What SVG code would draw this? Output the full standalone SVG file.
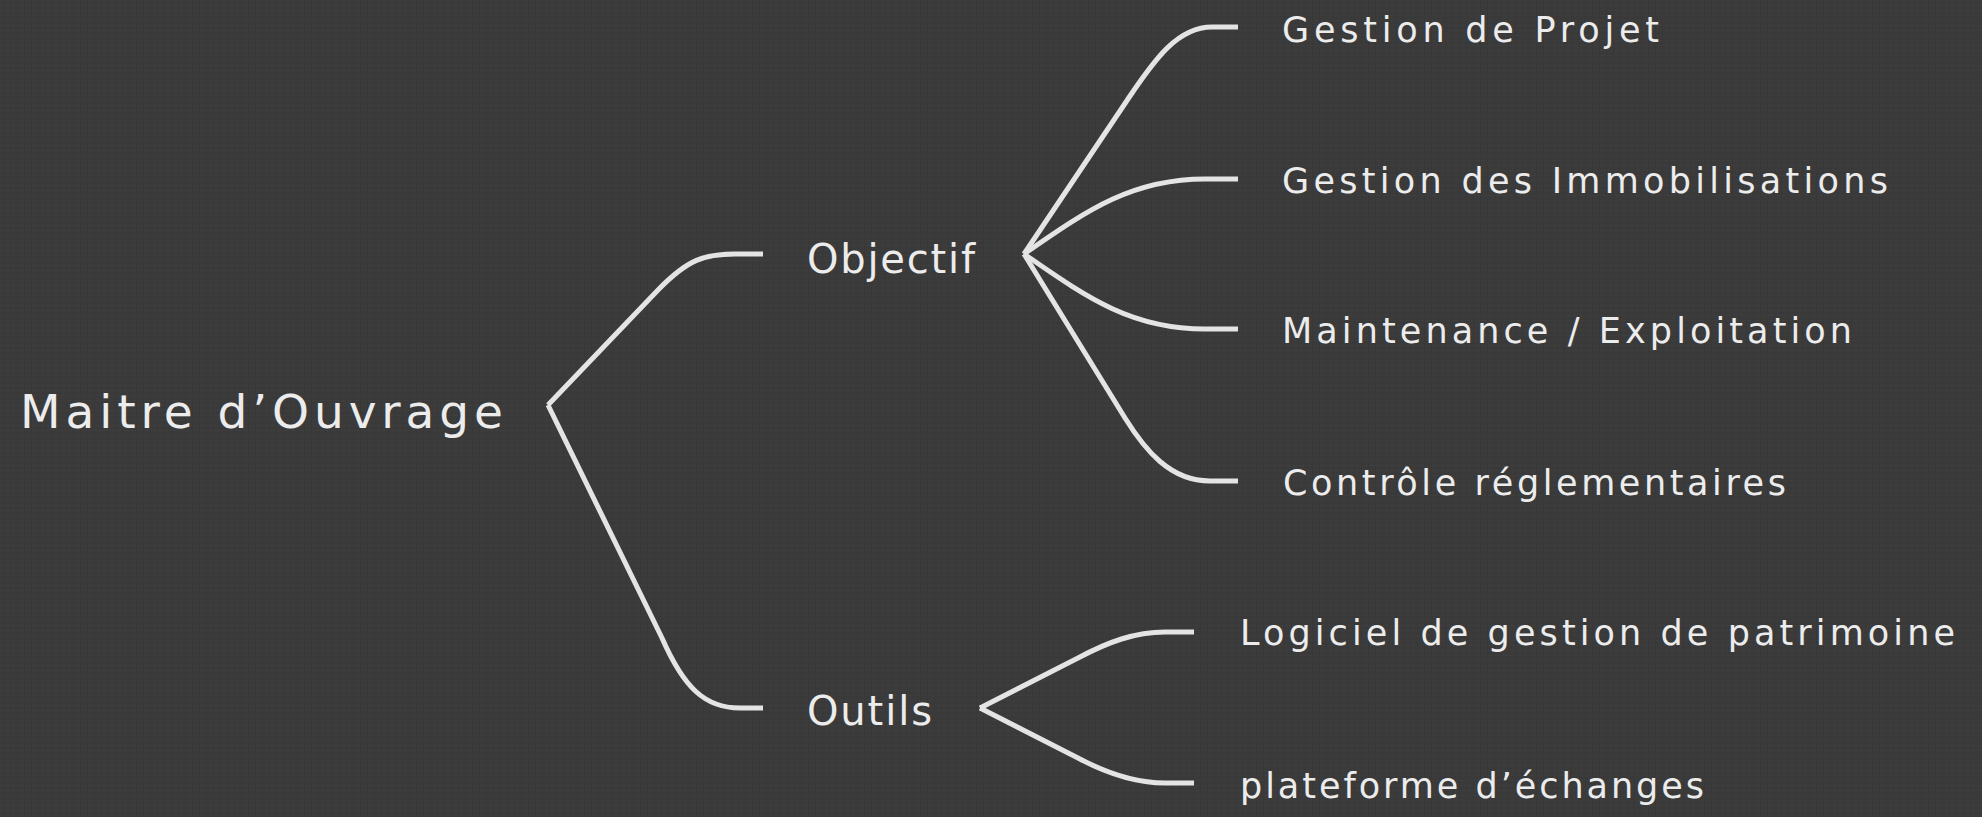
<svg xmlns="http://www.w3.org/2000/svg" width="1982" height="817" viewBox="0 0 1982 817">
<style>
.bg{fill:#3a3a3a}
.lnk{fill:none;stroke:#e4e4e4;stroke-width:5;stroke-linecap:butt;stroke-linejoin:round}
.t{fill:#ececec;font-family:"DejaVu Sans","Noto Sans",sans-serif}
.t0{font-size:47px}
.t1{font-size:40px}
.t2{font-size:35px}
</style>
<defs>
<pattern id="linen" width="7" height="5" patternUnits="userSpaceOnUse">
<rect width="7" height="5" fill="#3a3a3a"/>
<path d="M0,0.5H7" stroke="#424242" stroke-width="1"/>
<path d="M3.5,0V5" stroke="#363636" stroke-width="1"/>
</pattern>
</defs>
<rect class="bg" width="1982" height="817"/>
<rect width="1982" height="817" fill="url(#linen)" opacity="0.5"/>
<g id="connectors">
<path class="lnk" d="M548,405 L658,290 C688,259 705,254 735,254 L763,254"/>
<path class="lnk" d="M548,405 L662,638 C684,688 705,708 740,708 L763,708"/>
<path class="lnk" d="M1024,254 L1130,96 C1155,59 1178,27 1212,27 L1238,27"/>
<path class="lnk" d="M1024,254 C1085,212 1130,179 1205,179 L1238,179"/>
<path class="lnk" d="M1024,254 C1085,296 1130,329 1205,329 L1238,329"/>
<path class="lnk" d="M1024,254 L1125,418 C1145,450 1170,481 1210,481 L1238,481"/>
<path class="lnk" d="M980,708 L1078,658 C1108,642 1135,632 1165,632 L1194,632"/>
<path class="lnk" d="M980,708 L1078,758 C1108,774 1135,783 1165,783 L1194,783"/>
</g>
<g id="node-root"><text class="t t0" x="20" y="428" textLength="483" lengthAdjust="spacing">Maitre d’Ouvrage</text></g>
<g id="node-objectif"><text class="t t1" x="807" y="273" textLength="168" lengthAdjust="spacing">Objectif</text></g>
<g id="node-outils"><text class="t t1" x="807" y="725" textLength="125" lengthAdjust="spacing">Outils</text></g>
<g id="node-gestion-projet"><text class="t t2" x="1282" y="42" textLength="377" lengthAdjust="spacing">Gestion de Projet</text></g>
<g id="node-gestion-immo"><text class="t t2" x="1282" y="193" textLength="606" lengthAdjust="spacing">Gestion des Immobilisations</text></g>
<g id="node-maintenance"><text class="t t2" x="1282" y="343" textLength="570" lengthAdjust="spacing">Maintenance / Exploitation</text></g>
<g id="node-controle"><text class="t t2" x="1283" y="495" textLength="503" lengthAdjust="spacing">Contrôle réglementaires</text></g>
<g id="node-logiciel"><text class="t t2" x="1240" y="645" textLength="715" lengthAdjust="spacing">Logiciel de gestion de patrimoine</text></g>
<g id="node-plateforme"><text class="t t2" x="1240" y="798" textLength="464" lengthAdjust="spacing">plateforme d’échanges</text></g>
</svg>
